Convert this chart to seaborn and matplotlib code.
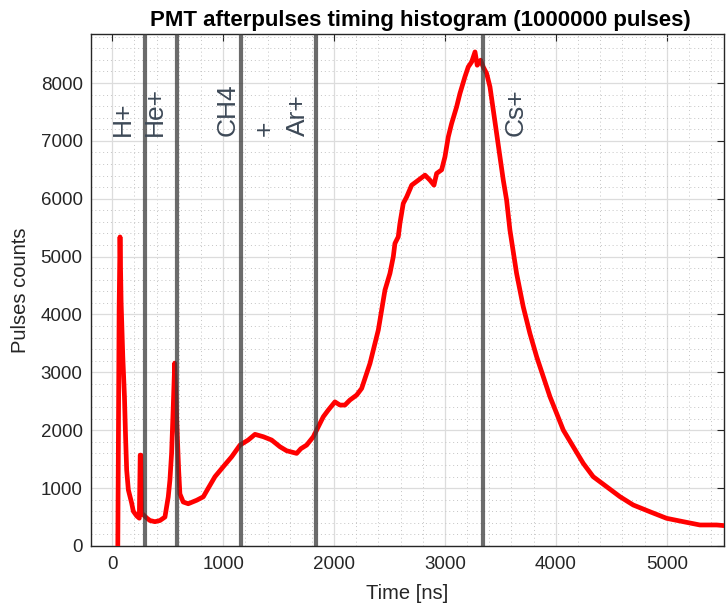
import matplotlib
matplotlib.use("Agg")
import matplotlib.pyplot as plt
import seaborn as sns
import pandas as pd
from matplotlib.ticker import MultipleLocator

# ---- data ----
time_ns = [50, 62, 70, 80, 95, 110, 120, 130, 145, 175, 190, 220, 244, 252, 258, 266, 280,
           310, 340, 385, 430, 475, 505, 520, 535, 550, 563, 575, 588, 599, 610, 640, 685,
           761, 821, 866, 926, 1001, 1077, 1152, 1226, 1287, 1362, 1437, 1512, 1572, 1663,
           1700, 1753, 1813, 1843, 1903, 1948, 2008, 2053, 2098, 2143, 2204, 2249, 2279,
           2324, 2369, 2399, 2429, 2459, 2504, 2534, 2549, 2579, 2594, 2624, 2655, 2700,
           2760, 2820, 2865, 2901, 2925, 2970, 3000, 3030, 3060, 3105, 3135, 3180, 3210,
           3241, 3271, 3291, 3322, 3345, 3376, 3406, 3436, 3466, 3496, 3526, 3556, 3586,
           3646, 3706, 3766, 3827, 3887, 3947, 4007, 4067, 4157, 4247, 4337, 4458, 4578,
           4698, 4848, 4999, 5149, 5299, 5450, 5530]
counts = [0, 4110, 5340, 4200, 3270, 2580, 1890, 1310, 970, 740, 600, 520, 480, 1570, 1570, 560, 540,
          484, 440, 420, 440, 500, 850, 1140, 1600, 2405, 3160, 2520, 1830, 1300, 900, 760, 730,
          790, 850, 1000, 1197, 1370, 1542, 1744, 1831, 1929, 1888, 1831, 1715, 1646, 1600,
          1680, 1744, 1888, 2003, 2233, 2349, 2490, 2435, 2435, 2522, 2608, 2723, 2896,
          3155, 3501, 3731, 4076, 4421, 4710, 4997, 5228, 5343, 5574, 5919, 6033, 6235,
          6321, 6408, 6321, 6235, 6437, 6500, 6724, 7069, 7300, 7587, 7818, 8106, 8278,
          8365, 8537, 8307, 8394, 8278, 8164, 7933, 7530, 7128, 6724, 6321, 5976, 5458,
          4710, 4133, 3673, 3270, 2924, 2579, 2292, 2003, 1715, 1428, 1197, 1024, 852,
          708, 592, 478, 420, 363, 363, 350]

ion_lines_ns = [295, 580, 1160, 1837, 3346]
ion_labels = ["H+", "He+", "CH4", "+", "Ar+", "Cs+"]
ion_label_x = [99, 385, 1044, 1377, 1670, 3640]

x_ticks = [0, 1000, 2000, 3000, 4000, 5000]
y_ticks = [0, 1000, 2000, 3000, 4000, 5000, 6000, 7000, 8000]

df = pd.DataFrame({"Time [ns]": time_ns, "Pulses counts": counts})

sns.set_theme(style="white")
plt.rcParams["font.family"] = ["Liberation Sans", "DejaVu Sans"]

fig = plt.figure(figsize=(7.26, 6.08), dpi=100)
ax = fig.add_axes([0.1253, 0.102, 0.9972 - 0.1253, 0.944 - 0.102])

sns.lineplot(data=df, x="Time [ns]", y="Pulses counts", color="#ff0000",
             linewidth=3.4, ax=ax, sort=False, zorder=3)

for xv in ion_lines_ns:
    ax.axvline(xv, color="#3a3a3a", alpha=0.75, linewidth=3, zorder=4)

label_y = 7081
for lab, xv in zip(ion_labels, ion_label_x):
    ax.text(xv, label_y, lab, rotation=90, ha="center", va="bottom",
            fontsize=19, color="#3d4957", zorder=5)

ax.set_xlim(-192, 5516)
ax.set_ylim(0, 8846)
ax.set_xticks(x_ticks)
ax.set_yticks(y_ticks)
ax.xaxis.set_minor_locator(MultipleLocator(200))
ax.yaxis.set_minor_locator(MultipleLocator(200))
ax.grid(True, which="major", color="#dcdcdc", linewidth=0.9, linestyle="-")
ax.grid(True, which="minor", color="#c4c4c4", linewidth=0.7, linestyle=(0, (1, 3)))
ax.set_axisbelow(True)

ax.tick_params(axis="both", which="major", direction="in", length=5, width=0.8,
               colors="#262626", labelsize=13.5, top=True, right=True,
               labeltop=False, labelright=False)
ax.tick_params(axis="x", which="major", pad=7)
ax.tick_params(axis="y", which="major", pad=6)
ax.tick_params(axis="both", which="minor", length=0)
for sp in ax.spines.values():
    sp.set_color("#262626")
    sp.set_linewidth(1.0)
    sp.set_visible(True)

ax.set_xlabel("Time [ns]", fontsize=14.5, color="#262626", labelpad=8)
ax.set_ylabel("Pulses counts", fontsize=14.5, color="#262626", labelpad=8)
ax.set_title("PMT afterpulses timing histogram (1000000 pulses)", fontsize=16,
             fontweight="bold", color="black", pad=6, x=0.52)

fig.savefig("out.png", dpi=100)
